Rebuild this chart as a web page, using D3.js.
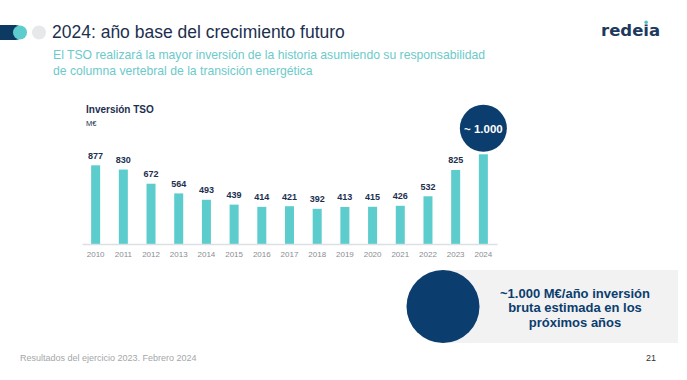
<!DOCTYPE html>
<html><head><meta charset="utf-8">
<script src="https://cdn.jsdelivr.net/npm/d3@7"></script>
<style>
html,body{margin:0;padding:0;background:#fff;}
svg{display:block;font-family:"Liberation Sans",Arial,Helvetica,sans-serif;}
</style></head>
<body>
<svg id="c" width="687" height="380"></svg>
<script>
const years = ["2010","2011","2012","2013","2014","2015","2016","2017","2018","2019","2020","2021","2022","2023","2024"];
const values = [877,830,672,564,493,439,414,421,392,413,415,426,532,825,1000];
const valueLabels = ["877","830","672","564","493","439","414","421","392","413","415","426","532","825","~ 1.000"];

const navy = "#0b3d6e", teal = "#5ccccd", darkText = "#1c2f4f";
const svg = d3.select("#c");

// header icons
svg.append("rect").attr("x",-10).attr("y",25).attr("width",33).attr("height",15).attr("rx",7.5).attr("fill","#0d3a63");
svg.append("circle").attr("cx",20).attr("cy",32.5).attr("r",7).attr("fill",teal);
svg.append("circle").attr("cx",39).attr("cy",32.5).attr("r",7).attr("fill","#e6e8ec");

svg.append("text").attr("x",52).attr("y",38).attr("font-size",17.5).attr("fill",darkText)
  .text("2024: año base del crecimiento futuro");
svg.append("text").attr("x",53).attr("y",59).attr("font-size",12.2).attr("fill","#6ccaca")
  .text("El TSO realizará la mayor inversión de la historia asumiendo su responsabilidad");
svg.append("text").attr("x",53).attr("y",75).attr("font-size",12.2).attr("fill","#6ccaca")
  .text("de columna vertebral de la transición energética");

// logo
const logo = svg.append("text").attr("x",601).attr("y",35.5).attr("font-size",16.5).attr("font-weight","bold")
  .attr("font-family","'DejaVu Sans',sans-serif").attr("fill","#1d3a5e").text("redeia");
try {
  const ext = logo.node().getExtentOfChar(4);
  svg.append("rect").attr("x",ext.x).attr("y",20).attr("width",ext.width).attr("height",4.5).attr("fill","#fff");
  svg.append("circle").attr("cx",ext.x+ext.width/2).attr("cy",22.3).attr("r",1.8).attr("fill","#4fc3c8");
} catch(e) {}

// chart title
svg.append("text").attr("x",86).attr("y",113).attr("font-size",10).attr("font-weight","bold").attr("fill",darkText).text("Inversión TSO");
svg.append("text").attr("x",86).attr("y",126).attr("font-size",7.5).attr("fill",darkText).text("M€");

const x = d3.scaleBand().domain(years).range([82,497]).paddingInner(0.675).paddingOuter(0.33);
const y = d3.scaleLinear().domain([0,1000]).range([244,154.3]);

const g = svg.append("g");
g.selectAll("rect.bar").data(years).join("rect").attr("class","bar")
  .attr("x",d=>x(d)).attr("width",x.bandwidth())
  .attr("y",(d,i)=>y(values[i])).attr("height",(d,i)=>y(0)-y(values[i]))
  .attr("fill",teal);

const ax = g.append("g").attr("transform","translate(0,244)")
  .call(d3.axisBottom(x).tickSize(0).tickPadding(7));
ax.select(".domain").attr("stroke","#dcdfe3").attr("stroke-width",1.5);
ax.selectAll("text").attr("font-size",8).attr("fill","#8a8d92").attr("font-family","'Liberation Sans',Arial,sans-serif");

// value labels (all but last)
g.selectAll("text.val").data(years.slice(0,-1)).join("text").attr("class","val")
  .attr("x",d=>x(d)+x.bandwidth()/2).attr("y",(d,i)=>y(values[i])-6.5)
  .attr("text-anchor","middle").attr("font-size",9).attr("font-weight","bold").attr("fill",darkText)
  .text((d,i)=>valueLabels[i]);

// highlight circle for last
const last = years.length-1;
const cx = x(years[last])+x.bandwidth()/2;
g.append("circle").attr("cx",cx).attr("cy",y(values[last])-26).attr("r",23.5).attr("fill",navy);
g.append("text").attr("x",cx).attr("y",y(values[last])-21.8).attr("text-anchor","middle")
  .attr("font-size",11.5).attr("font-weight","bold").attr("fill","#fff").text(valueLabels[last]);

// callout box
svg.append("rect").attr("x",443).attr("y",270).attr("width",235).attr("height",73).attr("fill","#f2f2f2");
svg.append("circle").attr("cx",443).attr("cy",306.5).attr("r",36.5).attr("fill",navy);
const lines = ["~1.000 M€/año inversión","bruta estimada en los","próximos años"];
svg.selectAll("text.call").data(lines).join("text").attr("class","call")
  .attr("x",575).attr("y",(d,i)=>297.5+i*14.8).attr("text-anchor","middle")
  .attr("font-size",13).attr("font-weight","bold").attr("fill",navy).text(d=>d);

// footer
svg.append("text").attr("x",20).attr("y",361).attr("font-size",9).attr("fill","#a3a6aa").text("Resultados del ejercicio 2023. Febrero 2024");
svg.append("text").attr("x",656).attr("y",361).attr("text-anchor","end").attr("font-size",9).attr("fill","#333").text("21");
</script>
</body></html>
